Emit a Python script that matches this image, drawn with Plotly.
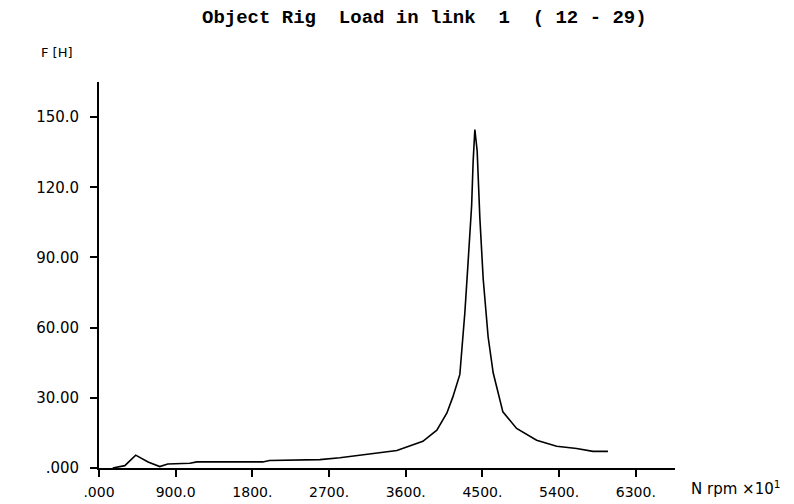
import plotly.graph_objects as go

# Load amplitude in link 1 versus shaft speed (rpm x 10)
rpm = [161, 303, 431, 576, 713, 807, 1066, 1150, 1477, 1923, 2000, 2357, 2592,
       2827, 3144, 3496, 3801, 3965, 4083, 4153, 4235, 4294, 4329, 4373, 4391,
       4411, 4438, 4470, 4509, 4567, 4626, 4705, 4740, 4901, 5136, 5371, 5605,
       5797, 5973]
force = [0.0, 1.0, 5.5, 2.6, 0.6, 1.7, 2.0, 2.6, 2.6, 2.6, 3.2, 3.4, 3.6,
         4.4, 5.8, 7.5, 11.4, 16.2, 23.5, 30.4, 40.0, 66.6, 86.4, 112.0, 131.0,
         144.7, 135.6, 106.7, 80.8, 56.0, 40.7, 29.0, 24.0, 16.9, 11.9, 9.3, 8.3,
         7.1, 7.1]

x_tick_vals = [0, 900, 1800, 2700, 3600, 4500, 5400, 6300]
x_tick_text = [".000", "900.0", "1800.", "2700.", "3600.", "4500.", "5400.", "6300."]
y_tick_vals = [0, 30, 60, 90, 120, 150]
y_tick_text = [".000", "30.00", "60.00", "90.00", "120.0", "150.0"]

title_text = "Object Rig  Load in link  1  ( 12 - 29)"
y_label = "F [H]"
x_label = "N rpm &#215;10<sup>1</sup>"

W, H = 794, 504
ml, mr, mt, mb = 99, 119, 82, 36
pw, ph = W - ml - mr, H - mt - mb


def px(xp):
    return (xp - ml) / pw


def py(yp):
    return (H - mb - yp) / ph


fig = go.Figure()
fig.add_trace(go.Scatter(
    x=rpm, y=force, mode="lines",
    line=dict(color="black", width=1.6),
    hoverinfo="skip", showlegend=False,
))

sans = "DejaVu Sans, Verdana, sans-serif"
x_font = dict(family=sans, size=14, color="black")
y_font = dict(family=sans, size=15, color="black")

fig.update_layout(
    width=W, height=H,
    margin=dict(l=ml, r=mr, t=mt, b=mb, autoexpand=False),
    paper_bgcolor="white", plot_bgcolor="white",
    xaxis=dict(
        range=[0, 6760], tickvals=x_tick_vals, ticktext=x_tick_text,
        showgrid=False, zeroline=False, showline=True, linecolor="black",
        linewidth=1.8, ticks="outside", ticklen=7, tickwidth=1.6,
        tickcolor="black", tickfont=x_font, ticklabelstandoff=3,
        automargin=False,
    ),
    yaxis=dict(
        range=[0, 165], tickvals=y_tick_vals, ticktext=y_tick_text,
        showgrid=False, zeroline=False, showline=True, linecolor="black",
        linewidth=1.8, ticks="outside", ticklen=7, tickwidth=1.6,
        tickcolor="black", tickfont=y_font, ticklabelstandoff=8,
        automargin=False,
    ),
    annotations=[
        dict(text=title_text, xref="paper", yref="paper", x=px(424), y=py(18),
             xanchor="center", yanchor="middle", showarrow=False,
             font=dict(family="Liberation Mono, DejaVu Sans Mono, monospace",
                       size=19, color="black", weight="bold")),
        dict(text=y_label, xref="paper", yref="paper", x=px(39), y=py(53),
             xanchor="left", yanchor="middle", showarrow=False,
             font=dict(family=sans, size=13, color="black")),
        dict(text=x_label, xref="paper", yref="paper", x=px(689), y=py(488),
             xanchor="left", yanchor="middle", showarrow=False,
             font=dict(family=sans, size=15, color="black")),
    ],
)

fig.write_html("out.html")
